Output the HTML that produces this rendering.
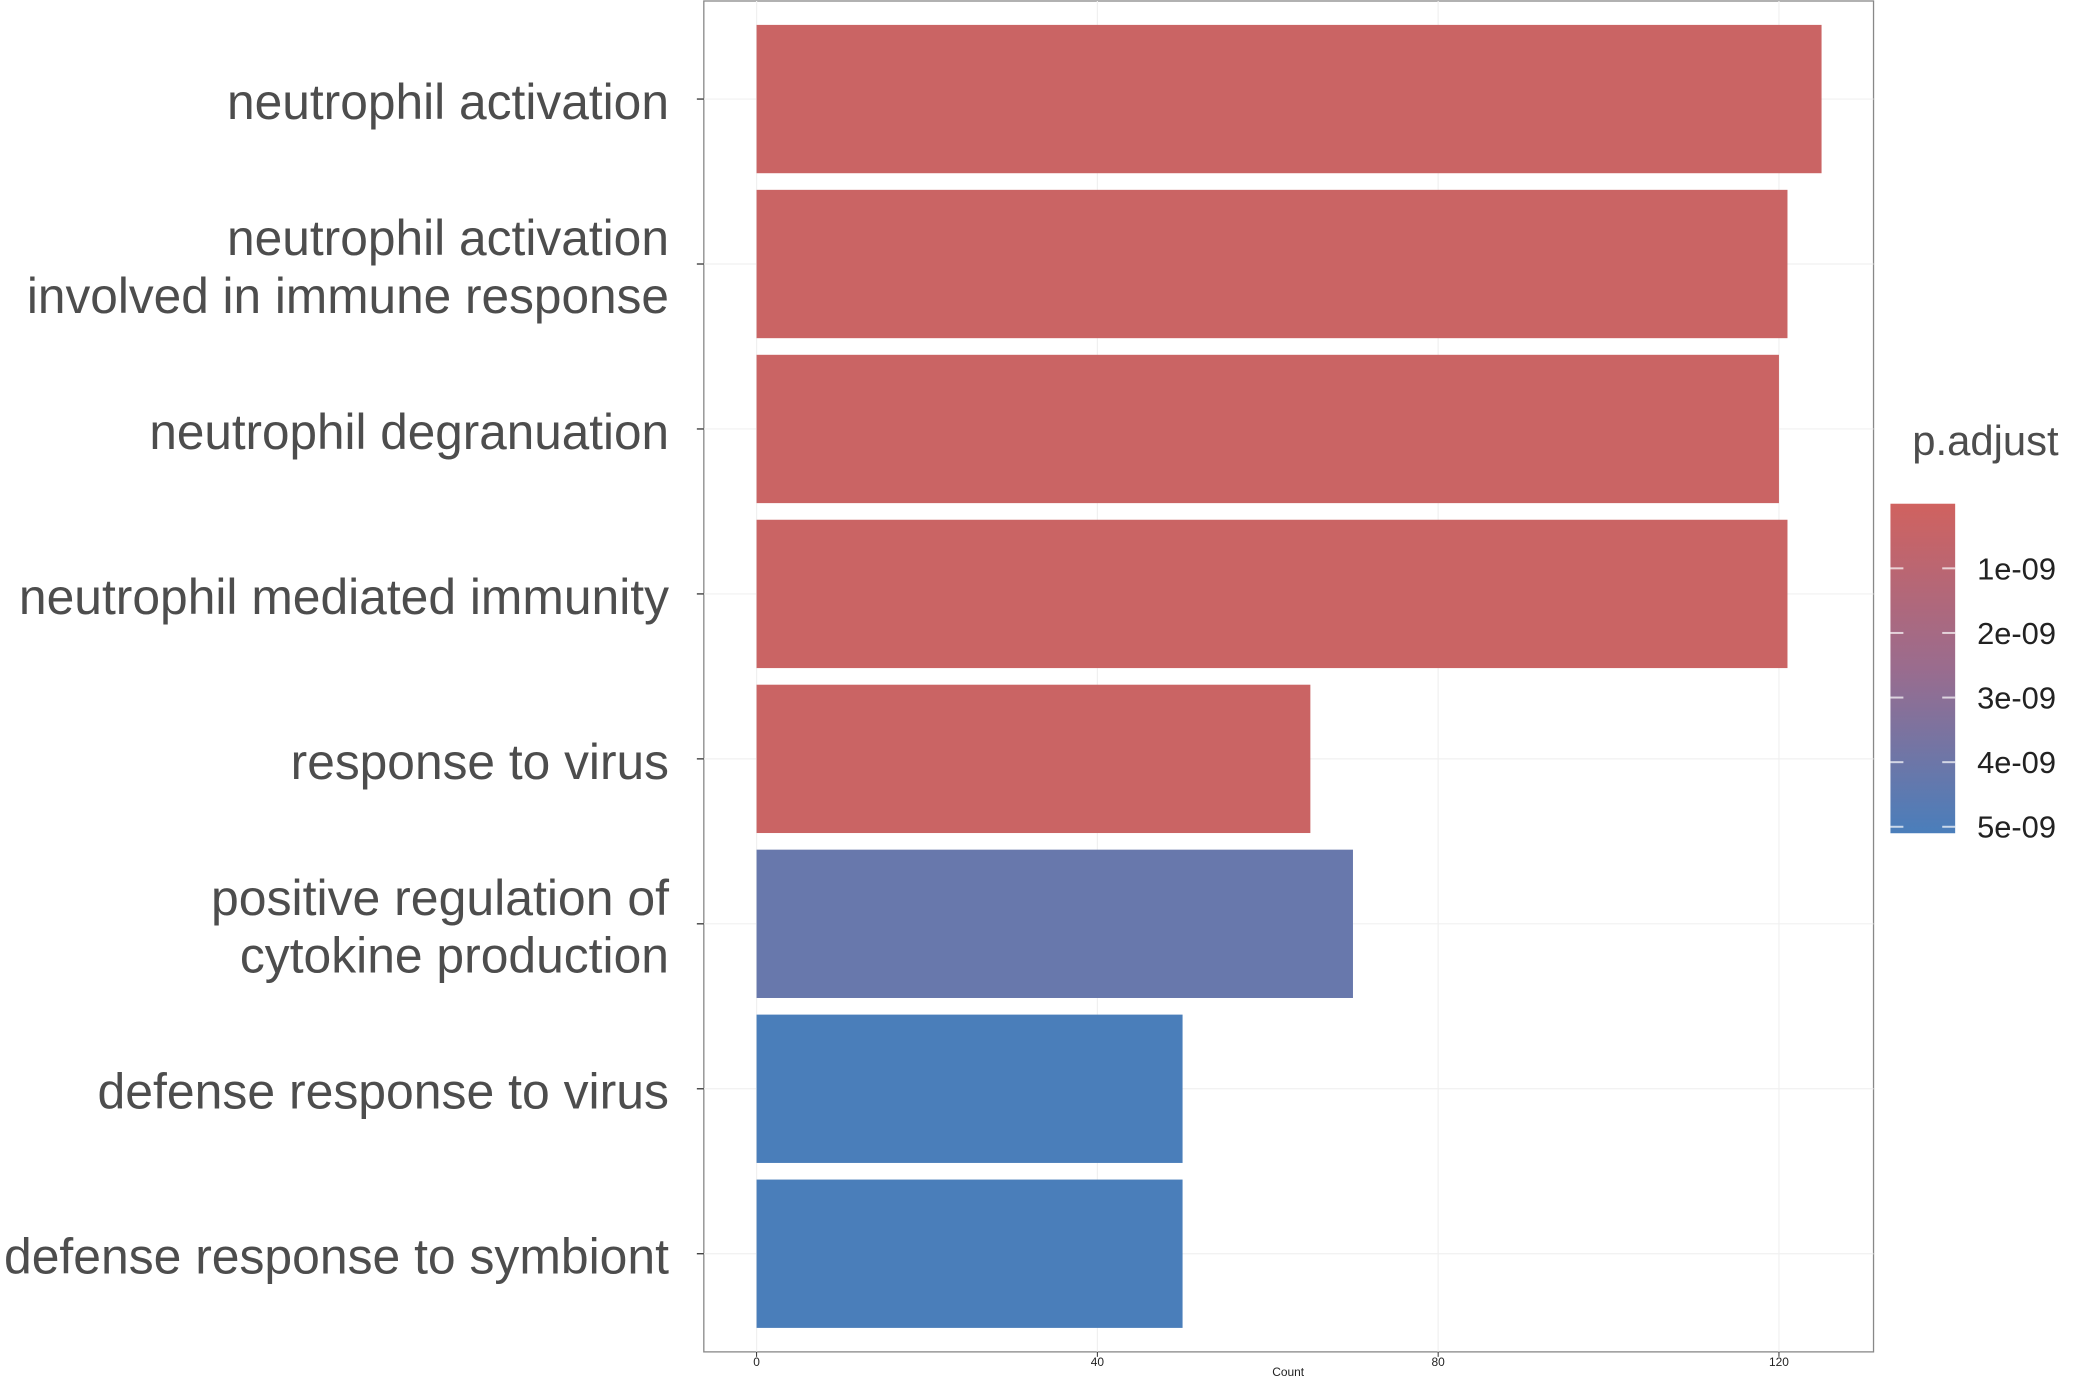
<!DOCTYPE html>
<html><head><meta charset="utf-8"><style>
html,body{margin:0;padding:0;background:#fff;}
svg{display:block;font-family:"Liberation Sans",Arial,sans-serif;}
</style></head><body>
<svg id="chart" width="2073" height="1385" viewBox="0 0 2073 1385" xmlns="http://www.w3.org/2000/svg">
<defs>
<linearGradient id="lg" x1="0" y1="0" x2="0" y2="1">
<stop offset="0" stop-color="#D0625F"/><stop offset="0.5" stop-color="#9A6C8E"/><stop offset="1" stop-color="#4A7EBB"/>
</linearGradient>
</defs>
<g transform="scale(0.9955)">
<rect x="707" y="1" width="1175" height="1357" fill="#fff" stroke="#888" stroke-width="1.3"/>
<g id="grid"></g>
<g id="bars"></g>
<g id="ylabels"></g>
<g id="xticks"></g>
<text x="1294" y="1385" font-size="12" fill="#222" text-anchor="middle" dy="-3">Count</text>
<text x="2068" y="457" font-size="42" fill="#4d4d4d" text-anchor="end">p.adjust</text>
<rect x="1899" y="506" width="65" height="331" fill="url(#lg)"/>
<g id="legend"></g>
</g>
</svg>
<script>
const categories=["neutrophil activation","neutrophil activation|involved in immune response","neutrophil degranuation","neutrophil mediated immunity","response to virus","positive regulation of|cytokine production","defense response to virus","defense response to symbiont"];
const counts=[125,121,120,121,65,70,50,50];
const pvalues=[0.2e-9,0.2e-9,0.2e-9,0.2e-9,0.2e-9,4.0e-9,5.0e-9,5.0e-9];
const xTicks=[0,40,80,120];
const legendTicks=[1e-9,2e-9,3e-9,4e-9,5e-9];
const legendLabels=["1e-09","2e-09","3e-09","4e-09","5e-09"];

const NS="http://www.w3.org/2000/svg";
const X0=760,XU=(1787-760)/120;
function xs(v){return X0+v*XU;}
const TOP=25,PITCH=165.7,BH=149;
function yc(i){return TOP+BH/2+i*PITCH;}
const LTOP=506,LH=331,PMAX=5.1e-9;
function ly(p){return LTOP+p/PMAX*LH;}
function col(p){
  const t=Math.min(1,Math.max(0,p/5e-9));
  const a=[206,99,96],m=[150,112,150],b=[74,126,186];
  let c;
  if(t<0.5){const u=t*2;c=a.map((v,k)=>Math.round(v+(m[k]-v)*u));}
  else{const u=(t-0.5)*2;c=m.map((v,k)=>Math.round(v+(b[k]-v)*u));}
  return "rgb("+c.join(",")+")";
}
function mk(tag,attrs,parent){const e=document.createElementNS(NS,tag);for(const k in attrs)e.setAttribute(k,attrs[k]);parent.appendChild(e);return e;}
const grid=document.getElementById("grid"),bars=document.getElementById("bars"),yl=document.getElementById("ylabels"),xt=document.getElementById("xticks"),lg=document.getElementById("legend");
xTicks.forEach(v=>{
  const g=mk("line",{x1:xs(v),x2:xs(v),y1:1,y2:1358,stroke:"#f0f0f0","stroke-width":1.2},grid);
  
  
  const t=mk("line",{x1:xs(v),x2:xs(v),y1:1358,y2:1363,stroke:"#333","stroke-width":1},xt);
  
  
  const tx=mk("text",{x:xs(v),y:1372,"font-size":12,fill:"#222","text-anchor":"middle"},xt);
  tx.textContent=v;
  
  
});
const lineWidths={"neutrophil activation":444,"involved in immune response":645,"neutrophil degranuation":522,"neutrophil mediated immunity":653,"response to virus":380,"positive regulation of":460,"cytokine production":431,"defense response to virus":574,"defense response to symbiont":668};
categories.forEach((c,i)=>{
  const y=yc(i);
  const gl=mk("line",{x1:707,x2:1882,y1:y,y2:y,stroke:"#f0f0f0","stroke-width":1.2},grid);
  
  
  const r=mk("rect",{x:xs(0),y:y-BH/2,width:xs(counts[i])-xs(0),height:BH,fill:col(pvalues[i])},bars);
  
  
  const tk=mk("line",{x1:700,x2:707,y1:y,y2:y,stroke:"#333","stroke-width":1.3},yl);
  
  
  const lines=c.split("|");
  lines.forEach((ln,j)=>{
    const off=(j-(lines.length-1)/2)*58;
    const t=mk("text",{x:672,y:y+off+20,"font-size":50,fill:"#4d4d4d","text-anchor":"end",textLength:lineWidths[ln]||400,lengthAdjust:"spacingAndGlyphs"},yl);
    t.textContent=ln;
    
    
  });
});
legendTicks.forEach((p,i)=>{
  const y=ly(p);
  const a=mk("line",{x1:1899,x2:1912,y1:y,y2:y,stroke:"#fff","stroke-width":2,opacity:0.7},lg);
  
  
  const b=mk("line",{x1:1951,x2:1964,y1:y,y2:y,stroke:"#fff","stroke-width":2,opacity:0.7},lg);
  
  
  const t=mk("text",{x:1986,y:y+11,"font-size":31,fill:"#222"},lg);
  t.textContent=legendLabels[i];
  
  
});
</script>
</body></html>
